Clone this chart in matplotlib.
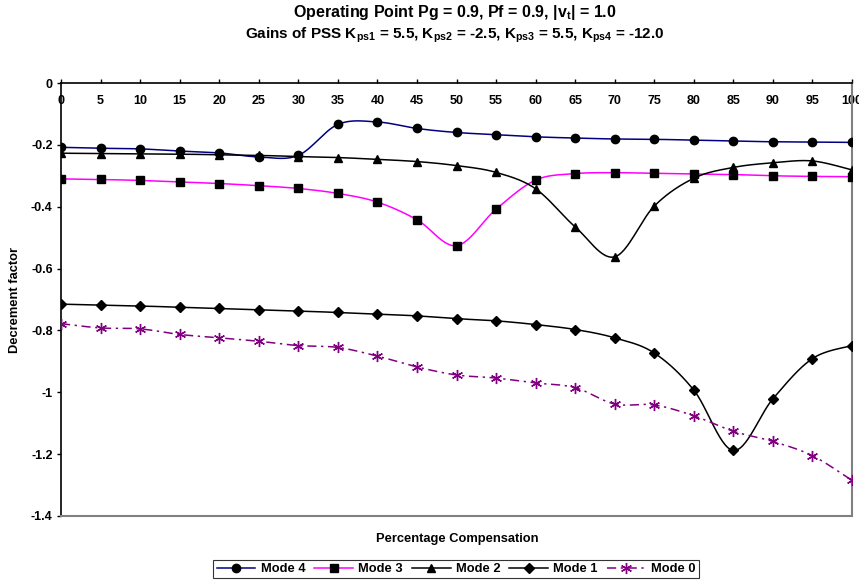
import numpy as np
import matplotlib
matplotlib.use("Agg")
import matplotlib.pyplot as plt
from matplotlib.lines import Line2D

plt.rcParams['font.family'] = ['Liberation Sans', 'DejaVu Sans']
plt.rcParams['font.weight'] = 'bold'
plt.rcParams['mathtext.fontset'] = 'custom'
plt.rcParams['mathtext.rm'] = 'Liberation Sans:bold'
plt.rcParams['mathtext.it'] = 'Liberation Sans:bold'
plt.rcParams['mathtext.bf'] = 'Liberation Sans:bold'

compensation = [0, 5, 10, 15, 20, 25, 30, 35, 40, 45, 50, 55, 60, 65, 70, 75, 80, 85, 90, 95, 100]

mode4 = [-0.208, -0.211, -0.213, -0.220, -0.226, -0.239, -0.234, -0.134, -0.126, -0.147, -0.160,
         -0.167, -0.174, -0.178, -0.181, -0.182, -0.185, -0.188, -0.190, -0.191, -0.192]
mode3 = [-0.310, -0.312, -0.315, -0.320, -0.325, -0.332, -0.341, -0.357, -0.385, -0.442, -0.526,
         -0.408, -0.314, -0.293, -0.290, -0.292, -0.294, -0.296, -0.300, -0.302, -0.303]
mode2 = [-0.227, -0.228, -0.229, -0.230, -0.232, -0.234, -0.238, -0.241, -0.247, -0.254, -0.267,
         -0.289, -0.342, -0.465, -0.562, -0.398, -0.308, -0.273, -0.258, -0.252, -0.281]
mode1 = [-0.715, -0.718, -0.721, -0.725, -0.729, -0.733, -0.737, -0.742, -0.747, -0.753, -0.762,
         -0.769, -0.781, -0.797, -0.824, -0.873, -0.993, -1.188, -1.021, -0.891, -0.849]
mode0 = [-0.778, -0.792, -0.795, -0.813, -0.824, -0.835, -0.849, -0.855, -0.883, -0.918, -0.944,
         -0.954, -0.970, -0.985, -1.038, -1.041, -1.076, -1.126, -1.159, -1.205, -1.285]

series_names = ['Mode 4', 'Mode 3', 'Mode 2', 'Mode 1', 'Mode 0']
x_ticks = list(range(0, 101, 5))
y_ticks = [0, -0.2, -0.4, -0.6, -0.8, -1, -1.2, -1.4]
y_tick_labels = ['0', '-0.2', '-0.4', '-0.6', '-0.8', '-1', '-1.2', '-1.4']


def smooth(xs, ys, n=30):
    """Excel-style smoothed line (cubic Bezier through the points)."""
    xs = np.asarray(xs, float)
    ys = np.asarray(ys, float)
    P = np.column_stack([xs, ys])
    out = [P[0]]
    t = np.linspace(0, 1, n)[1:, None]
    for i in range(len(P) - 1):
        p0 = P[i - 1] if i > 0 else P[i]
        p1 = P[i]
        p2 = P[i + 1]
        p3 = P[i + 2] if i + 2 < len(P) else P[i + 1]
        c1 = p1 + (p2 - p0) / 6.0
        c2 = p2 - (p3 - p1) / 6.0
        seg = ((1 - t) ** 3) * p1 + 3 * ((1 - t) ** 2) * t * c1 + 3 * (1 - t) * t ** 2 * c2 + t ** 3 * p2
        out.extend(seg)
    out = np.array(out)
    return out[:, 0], out[:, 1]


fig = plt.figure(figsize=(8.59, 5.80), dpi=100)
W, H = 859, 580
left, right, top, bottom = 61, 852, 83, 516
ax = fig.add_axes([left / W, 1 - bottom / H, (right - left) / W, (bottom - top) / H])

styles = [
    dict(data=mode4, color='#000080', marker='o', ms=6, ls='-'),
    dict(data=mode3, color='#FF00FF', marker='s', ms=6, ls='-'),
    dict(data=mode2, color='black', marker='^', ms=6, ls='-'),
    dict(data=mode1, color='black', marker='D', ms=5, ls='-'),
    dict(data=mode0, color='#800080', marker=(6, 2, 0), ms=8, ls=(0, (6, 3, 1.5, 3))),
]

handles = []
for name, st in zip(series_names, styles):
    sx, sy = smooth(compensation, st['data'])
    ax.plot(sx, sy, color=st['color'], lw=1.1, ls=st['ls'], zorder=2)
    mcolor = st['color'] if name == 'Mode 0' else 'black'
    ax.plot(compensation, st['data'], ls='none', marker=st['marker'], ms=st['ms'],
            mfc=mcolor, mec=mcolor, mew=1.0, zorder=3)
    handles.append(Line2D([], [], color=st['color'], lw=1.1, ls=st['ls'], marker=st['marker'],
                          ms=st['ms'], mfc=mcolor, mec=mcolor, mew=1.0))

ax.set_xlim(0, 100)
ax.set_ylim(-1.4, 0)
ax.set_xticks(x_ticks)
ax.set_xticklabels([str(v) for v in x_ticks])
ax.set_yticks(y_ticks)
ax.set_yticklabels(y_tick_labels)

ax.tick_params(axis='x', top=True, bottom=False, labeltop=True, labelbottom=False,
               direction='out', length=3, width=1, pad=-20, labelsize=9)
ax.tick_params(axis='y', direction='out', length=3, width=1, labelsize=9, pad=3)
for lab in ax.get_xticklabels() + ax.get_yticklabels():
    lab.set_fontweight('bold')

ax.spines['top'].set_color('black')
ax.spines['top'].set_linewidth(1.2)
ax.spines['left'].set_color('black')
ax.spines['left'].set_linewidth(1.2)
ax.spines['right'].set_color('#808080')
ax.spines['right'].set_linewidth(1.5)
ax.spines['bottom'].set_color('#808080')
ax.spines['bottom'].set_linewidth(1.5)

fig.text(455 / W, 1 - 13 / H, 'Operating Point Pg = 0.9, Pf = 0.9, |v$_{\\mathrm{t}}$| = 1.0',
         ha='center', va='center', fontsize=11.5, fontweight='bold')
fig.text(455 / W, 1 - 35 / H,
         'Gains of PSS K$_{\\mathrm{ps1}}$ = 5.5, K$_{\\mathrm{ps2}}$ = -2.5, '
         'K$_{\\mathrm{ps3}}$ = 5.5, K$_{\\mathrm{ps4}}$ = -12.0',
         ha='center', va='center', fontsize=11.0, fontweight='bold')

fig.text(15 / W, 1 - 300 / H, 'Decrement factor', rotation=90, ha='center', va='center',
         fontsize=9.3, fontweight='bold')
fig.text(457 / W, 1 - 539 / H, 'Percentage Compensation', ha='center', va='center',
         fontsize=9.3, fontweight='bold')

leg = fig.legend(handles, series_names, loc='center', bbox_to_anchor=(456 / W, 1 - 569 / H),
                 ncol=5, frameon=True, fancybox=False, fontsize=9.3, handlelength=3.0,
                 handletextpad=0.4, columnspacing=0.7, borderpad=0.25, borderaxespad=0)
leg.get_frame().set_edgecolor('black')
leg.get_frame().set_linewidth(0.8)
for t in leg.get_texts():
    t.set_fontweight('bold')

fig.savefig('out.png', dpi=100)
